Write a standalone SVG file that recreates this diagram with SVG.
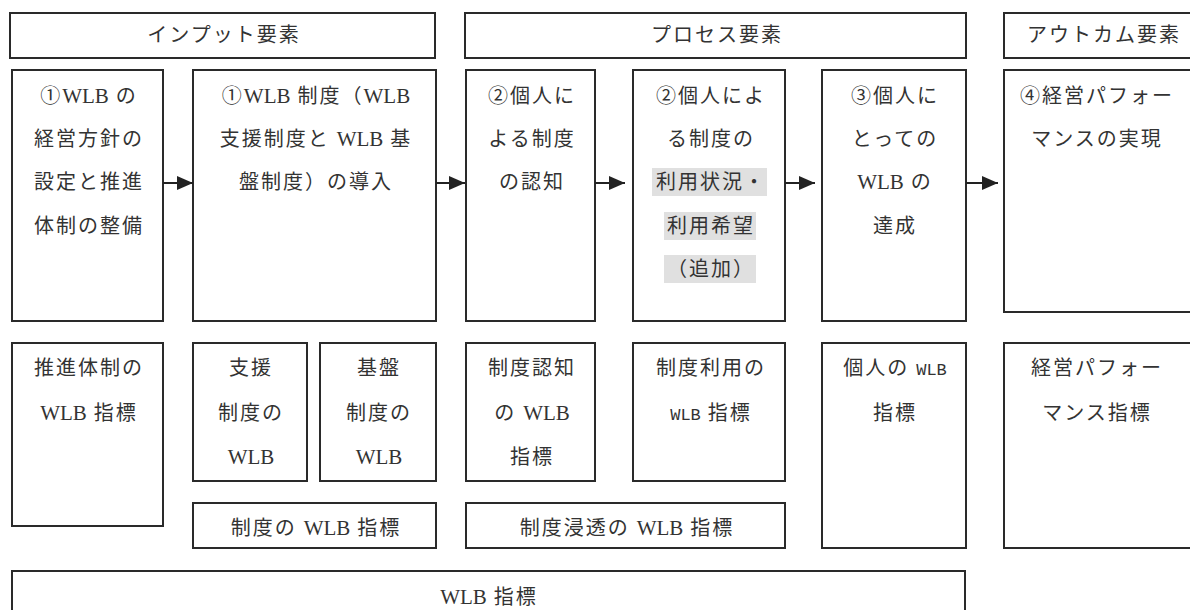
<svg xmlns="http://www.w3.org/2000/svg" width="1190" height="610" viewBox="0 0 1190 610">
<defs>
<marker id="ah" markerUnits="userSpaceOnUse" markerWidth="16" markerHeight="14" refX="16" refY="7" orient="auto">
<path d="M0,0 L16,7 L0,14 z" fill="#222"/>
</marker>
<style>
.box{fill:#fff;stroke:#2a2a2a;stroke-width:2}
.t{font-family:'Liberation Serif','Noto Sans CJK JP',serif;font-size:20px;fill:#333;text-anchor:middle;letter-spacing:2px}
.w{font-family:'Liberation Serif',serif;font-size:21px;letter-spacing:0}
.m{font-family:'Liberation Mono',monospace;font-size:17px;letter-spacing:0}
.hl{fill:#e0e0e0}
.c{stroke:#222;stroke-width:2;fill:none;marker-end:url(#ah)}
</style>
</defs>
<rect width="1190" height="610" fill="#fff"/>

<g id="h-input"><rect class="box" x="10" y="13" width="425" height="45"/><text class="t" x="224" y="42">インプット要素</text></g>
<g id="h-process"><rect class="box" x="465" y="13" width="501" height="45"/><text class="t" x="717" y="42">プロセス要素</text></g>
<g id="h-outcome"><rect class="box" x="1004" y="13" width="200" height="45"/><text class="t" x="1104" y="42">アウトカム要素</text></g>

<g id="n1"><rect class="box" x="12" y="70" width="151" height="251"/>
<text class="t" x="89" y="103">①<tspan class="w">WLB</tspan> の</text>
<text class="t" x="89" y="146">経営方針の</text>
<text class="t" x="89" y="189">設定と推進</text>
<text class="t" x="89" y="233">体制の整備</text></g>

<g id="n2"><rect class="box" x="193" y="70" width="243" height="251"/>
<text class="t" x="316" y="103">①<tspan class="w">WLB</tspan> 制度（<tspan class="w">WLB</tspan></text>
<text class="t" x="316" y="146">支援制度と <tspan class="w">WLB</tspan> 基</text>
<text class="t" x="316" y="189">盤制度）の導入</text></g>

<g id="n3"><rect class="box" x="466" y="70" width="129" height="251"/>
<text class="t" x="532" y="103">②個人に</text>
<text class="t" x="532" y="146">よる制度</text>
<text class="t" x="532" y="189">の認知</text></g>

<g id="n4"><rect class="box" x="633" y="70" width="152" height="251"/>
<rect class="hl" x="652" y="168" width="115" height="28"/>
<rect class="hl" x="664" y="212" width="92" height="28"/>
<rect class="hl" x="664" y="255" width="92" height="28"/>
<text class="t" x="711" y="103">②個人によ</text>
<text class="t" x="711" y="146">る制度の</text>
<text class="t" x="711" y="189">利用状況・</text>
<text class="t" x="711" y="233">利用希望</text>
<text class="t" x="711" y="276">（追加）</text></g>

<g id="n5"><rect class="box" x="822" y="70" width="144" height="251"/>
<text class="t" x="895" y="103">③個人に</text>
<text class="t" x="895" y="146">とっての</text>
<text class="t" x="895" y="189"><tspan class="w">WLB</tspan> の</text>
<text class="t" x="895" y="233">達成</text></g>

<g id="n6"><rect class="box" x="1004" y="70" width="200" height="242"/>
<text class="t" x="1097" y="103">④経営パフォー</text>
<text class="t" x="1097" y="146">マンスの実現</text></g>

<g id="i1"><rect class="box" x="12" y="343" width="151" height="183"/>
<text class="t" x="89" y="375">推進体制の</text>
<text class="t" x="89" y="420"><tspan class="w">WLB</tspan> 指標</text></g>

<g id="i2"><rect class="box" x="193" y="343" width="114" height="138"/>
<text class="t" x="251" y="375">支援</text>
<text class="t" x="251" y="420">制度の</text>
<text class="t" x="251" y="464"><tspan class="w">WLB</tspan></text></g>

<g id="i3"><rect class="box" x="320" y="343" width="116" height="138"/>
<text class="t" x="379" y="375">基盤</text>
<text class="t" x="379" y="420">制度の</text>
<text class="t" x="379" y="464"><tspan class="w">WLB</tspan></text></g>

<g id="i4"><rect class="box" x="193" y="503" width="243" height="45"/>
<text class="t" x="316" y="535">制度の <tspan class="w">WLB</tspan> 指標</text></g>

<g id="i5"><rect class="box" x="466" y="343" width="129" height="138"/>
<text class="t" x="532" y="375">制度認知</text>
<text class="t" x="532" y="420">の <tspan class="w">WLB</tspan></text>
<text class="t" x="532" y="464">指標</text></g>

<g id="i6"><rect class="box" x="633" y="343" width="152" height="138"/>
<text class="t" x="711" y="375">制度利用の</text>
<text class="t" x="711" y="420"><tspan class="m">WLB</tspan> 指標</text></g>

<g id="i7"><rect class="box" x="466" y="503" width="319" height="45"/>
<text class="t" x="627" y="535">制度浸透の <tspan class="w">WLB</tspan> 指標</text></g>

<g id="i8"><rect class="box" x="822" y="343" width="144" height="205"/>
<text class="t" x="895" y="375">個人の <tspan class="m">WLB</tspan></text>
<text class="t" x="895" y="420">指標</text></g>

<g id="i9"><rect class="box" x="1004" y="343" width="200" height="205"/>
<text class="t" x="1097" y="375">経営パフォー</text>
<text class="t" x="1097" y="420">マンス指標</text></g>

<g id="i10"><rect class="box" x="12" y="571" width="953" height="60"/>
<text class="t" x="489" y="604"><tspan class="w">WLB</tspan> 指標</text></g>

<g id="connectors">
<line class="c" x1="163" y1="183" x2="193" y2="183"/>
<line class="c" x1="436" y1="183" x2="465" y2="183"/>
<line class="c" x1="595" y1="183" x2="625" y2="183"/>
<line class="c" x1="785" y1="183" x2="815" y2="183"/>
<line class="c" x1="966" y1="183" x2="998" y2="183"/>
</g>
</svg>
